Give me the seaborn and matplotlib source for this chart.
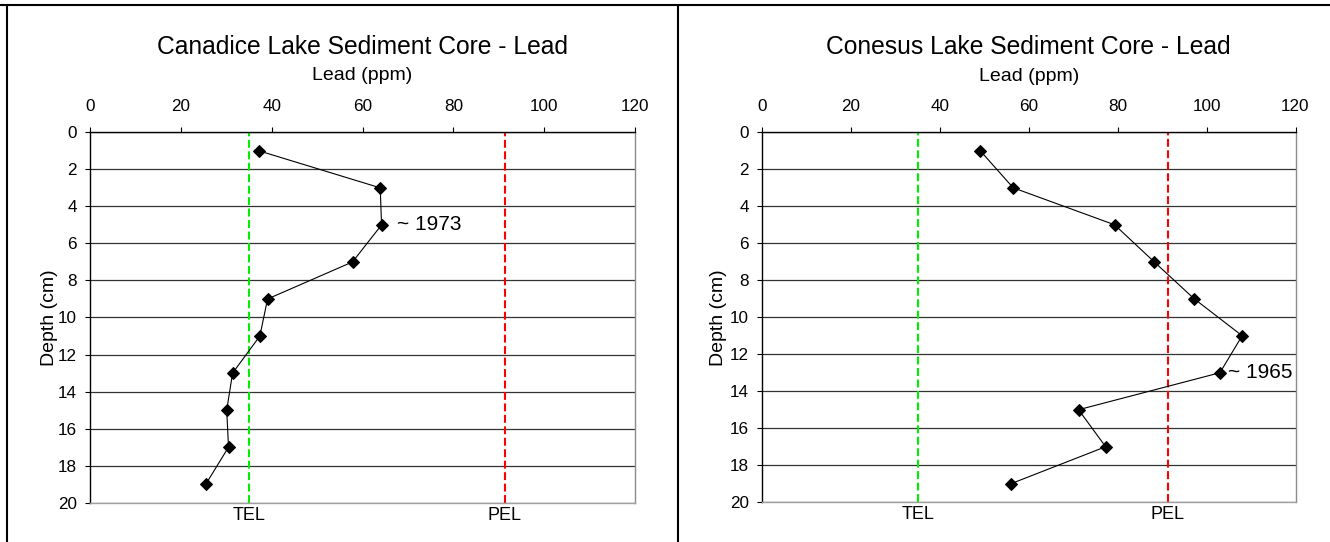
import matplotlib
matplotlib.use('Agg')
import matplotlib.pyplot as plt
import matplotlib.transforms as mtransforms
from matplotlib.lines import Line2D
import pandas as pd
import seaborn as sns

depth_cm = [1, 3, 5, 7, 9, 11, 13, 15, 17, 19]
canadice_lead = [37.2, 63.9, 64.2, 57.8, 39.1, 37.4, 31.4, 30.1, 30.5, 25.5]
conesus_lead = [49.1, 56.5, 79.3, 88.2, 97.2, 108.0, 103.0, 71.2, 77.3, 56.0]

# sediment quality guidelines
TEL = 35.0
PEL = 91.3

titles = ['Canadice Lake Sediment Core - Lead', 'Conesus Lake Sediment Core - Lead']
date_labels = ['~ 1973', '~ 1965']
date_depths = [5, 13]
x_ticks = [0, 20, 40, 60, 80, 100, 120]
y_ticks = [0, 2, 4, 6, 8, 10, 12, 14, 16, 18, 20]

sns.set_theme(style='white')
plt.rcParams['font.family'] = ['Liberation Sans', 'DejaVu Sans']
plt.rcParams['text.color'] = 'black'
plt.rcParams['axes.labelcolor'] = 'black'

W, H = 1330, 542
fig = plt.figure(figsize=(W / 100, H / 100), dpi=100)


def add_axes_px(left, top, right, bottom):
    return fig.add_axes([left / W, 1 - bottom / H, (right - left) / W, (bottom - top) / H])


panels = [
    dict(lead=canadice_lead, box=(90, 132.3, 635, 502.7), ylab_x=-0.075, ann_x=67.6),
    dict(lead=conesus_lead, box=(762, 132.3, 1295.5, 502.2), ylab_x=-0.081, ann_x=104.8),
]

for i, p in enumerate(panels):
    ax = add_axes_px(*p['box'])
    df = pd.DataFrame({'lead': p['lead'], 'depth': depth_cm})

    ax.axvline(TEL, color='#00ee00', lw=1.5, ls=(0, (3.8, 1.7)), zorder=2)
    ax.axvline(PEL, color='#ff0000', lw=1.5, ls=(0, (3.8, 1.7)), zorder=2)

    sns.lineplot(data=df, x='lead', y='depth', ax=ax, sort=False, estimator=None,
                 color='black', lw=0.8, marker='D', markersize=6,
                 markeredgecolor='black', zorder=3)

    ax.set_xlim(0, 120)
    ax.set_ylim(20, 0)
    ax.set_xticks(x_ticks)
    ax.set_yticks(y_ticks)
    ax.xaxis.tick_top()
    ax.tick_params(axis='x', top=True, bottom=False, direction='out', length=3.6,
                   width=0.8, pad=9.5, labelsize=12.3, color='black', labelcolor='black')
    ax.tick_params(axis='y', left=True, direction='out', length=3.6,
                   width=0.8, pad=6, labelsize=12.3, color='black', labelcolor='black')

    ax.grid(True, axis='y', color='#333333', lw=0.9)
    ax.grid(False, axis='x')
    ax.set_axisbelow(True)

    ax.spines['top'].set_color('black')
    ax.spines['left'].set_color('black')
    ax.spines['right'].set_color('#8c8c8c')
    ax.spines['bottom'].set_color('#a0a0a0')
    for s in ax.spines.values():
        s.set_linewidth(1.0)

    ax.set_title(titles[i], fontsize=17.7, y=1.23, pad=0, va='center')
    ax.set_xlabel('Lead (ppm)', fontsize=14)
    ax.xaxis.set_label_position('top')
    ax.xaxis.set_label_coords(0.5, 1.152)
    ax.xaxis.label.set_va('center')
    ax.set_ylabel('Depth (cm)', fontsize=14)
    ax.yaxis.set_label_coords(p['ylab_x'], 0.5)
    ax.yaxis.label.set_va('center')

    trans = mtransforms.blended_transform_factory(ax.transData, ax.transAxes)
    ax.text(TEL, -0.034, 'TEL', transform=trans, ha='center', va='center', fontsize=13)
    ax.text(PEL, -0.034, 'PEL', transform=trans, ha='center', va='center', fontsize=13)

    ax.text(p['ann_x'], date_depths[i], date_labels[i], ha='left', va='center', fontsize=15)

# outer frame of the two panels
frame = dict(transform=fig.transFigure, color='black', lw=1.5)
fig.add_artist(Line2D([0, 1], [1 - 5 / H, 1 - 5 / H], **frame))
fig.add_artist(Line2D([7 / W, 7 / W], [0, 1 - 5 / H], **frame))
fig.add_artist(Line2D([678 / W, 678 / W], [0, 1 - 5 / H], **frame))

fig.savefig('out.png', dpi=100)
